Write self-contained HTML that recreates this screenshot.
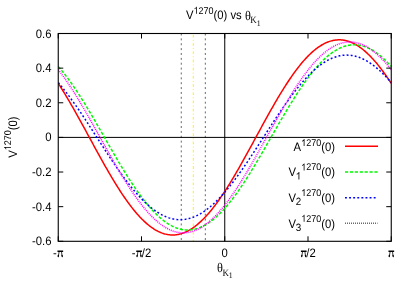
<!DOCTYPE html>
<html><head><meta charset="utf-8"><title>plot</title><style>
html,body{margin:0;padding:0;background:#fff}
svg{will-change:transform}
svg text{text-rendering:geometricPrecision;fill:#000}
.s{font-family:"Liberation Sans",sans-serif;font-size:11.3px}
.ss{font-family:"Liberation Sans",sans-serif;font-size:9px}
.sb{font-family:"Liberation Sans",sans-serif;font-size:9.8px}
.h{fill:none}
.e{font-family:"Liberation Serif",serif;font-size:11.3px}
.e8{font-family:"Liberation Serif",serif;font-size:9px}
.e6{font-family:"Liberation Serif",serif;font-size:7.8px}
.t{font-family:"Liberation Serif",serif;font-size:12.3px}
</style></head><body>
<svg width="409" height="287" viewBox="0 0 409 287" style="display:block">
<rect width="409" height="287" fill="#fff"/>
<line x1="181.28" y1="33.5" x2="181.28" y2="241.3" stroke="#686868" stroke-width="1" stroke-dasharray="2,2.87" stroke-dashoffset="0"/>
<line x1="193.30" y1="33.5" x2="193.30" y2="241.3" stroke="#fff400" stroke-width="1" stroke-dasharray="2.8,2.2,1,2.2" stroke-dashoffset="6.8"/>
<line x1="205.32" y1="33.5" x2="205.32" y2="241.3" stroke="#686868" stroke-width="1" stroke-dasharray="2,2.87" stroke-dashoffset="0"/>
<line x1="224.75" y1="33.5" x2="224.75" y2="241.3" stroke="#000" stroke-width="1"/>
<line x1="58.25" y1="137.4" x2="391.25" y2="137.4" stroke="#000" stroke-width="1"/>
<clipPath id="c"><rect x="58.25" y="33.5" width="333.0" height="207.8"/></clipPath>
<polyline clip-path="url(#c)" points="58.25,83.37 59.08,84.65 59.91,85.95 60.75,87.26 61.58,88.58 62.41,89.91 63.25,91.26 64.08,92.61 64.91,93.98 65.74,95.36 66.58,96.75 67.41,98.15 68.24,99.55 69.07,100.97 69.91,102.40 70.74,103.83 71.57,105.28 72.40,106.73 73.24,108.19 74.07,109.65 74.90,111.12 75.73,112.60 76.56,114.09 77.40,115.58 78.23,117.08 79.06,118.58 79.90,120.08 80.73,121.60 81.56,123.11 82.39,124.63 83.22,126.15 84.06,127.67 84.89,129.20 85.72,130.73 86.56,132.26 87.39,133.79 88.22,135.32 89.05,136.85 89.89,138.39 90.72,139.92 91.55,141.45 92.38,142.98 93.22,144.51 94.05,146.04 94.88,147.56 95.71,149.09 96.54,150.61 97.38,152.12 98.21,153.64 99.04,155.15 99.88,156.65 100.71,158.15 101.54,159.65 102.37,161.14 103.21,162.62 104.04,164.10 104.87,165.57 105.70,167.03 106.54,168.49 107.37,169.94 108.20,171.38 109.03,172.81 109.86,174.24 110.70,175.65 111.53,177.06 112.36,178.45 113.20,179.84 114.03,181.21 114.86,182.58 115.69,183.93 116.53,185.27 117.36,186.60 118.19,187.92 119.02,189.22 119.86,190.52 120.69,191.79 121.52,193.06 122.35,194.31 123.19,195.55 124.02,196.77 124.85,197.98 125.68,199.18 126.52,200.36 127.35,201.52 128.18,202.67 129.01,203.80 129.84,204.91 130.68,206.01 131.51,207.09 132.34,208.16 133.18,209.20 134.01,210.23 134.84,211.24 135.67,212.24 136.50,213.21 137.34,214.17 138.17,215.10 139.00,216.02 139.83,216.92 140.67,217.80 141.50,218.66 142.33,219.49 143.17,220.31 144.00,221.11 144.83,221.89 145.66,222.64 146.50,223.38 147.33,224.09 148.16,224.79 148.99,225.46 149.82,226.11 150.66,226.74 151.49,227.34 152.32,227.92 153.16,228.49 153.99,229.02 154.82,229.54 155.65,230.03 156.49,230.50 157.32,230.95 158.15,231.38 158.98,231.78 159.81,232.15 160.65,232.51 161.48,232.84 162.31,233.15 163.15,233.43 163.98,233.69 164.81,233.93 165.64,234.14 166.47,234.33 167.31,234.49 168.14,234.63 168.97,234.75 169.81,234.84 170.64,234.91 171.47,234.96 172.30,234.98 173.14,234.97 173.97,234.95 174.80,234.90 175.63,234.82 176.47,234.72 177.30,234.60 178.13,234.45 178.96,234.28 179.79,234.08 180.63,233.86 181.46,233.62 182.29,233.35 183.12,233.06 183.96,232.75 184.79,232.41 185.62,232.05 186.46,231.66 187.29,231.26 188.12,230.83 188.95,230.37 189.79,229.89 190.62,229.39 191.45,228.87 192.28,228.33 193.11,227.76 193.95,227.17 194.78,226.56 195.61,225.92 196.45,225.27 197.28,224.59 198.11,223.89 198.94,223.17 199.78,222.43 200.61,221.67 201.44,220.88 202.27,220.08 203.10,219.26 203.94,218.41 204.77,217.55 205.60,216.66 206.44,215.76 207.27,214.84 208.10,213.89 208.93,212.93 209.76,211.95 210.60,210.96 211.43,209.94 212.26,208.91 213.09,207.85 213.93,206.78 214.76,205.70 215.59,204.60 216.43,203.48 217.26,202.34 218.09,201.19 218.92,200.02 219.75,198.84 220.59,197.64 221.42,196.43 222.25,195.20 223.09,193.96 223.92,192.70 224.75,191.43 225.58,190.15 226.41,188.85 227.25,187.54 228.08,186.22 228.91,184.89 229.75,183.54 230.58,182.19 231.41,180.82 232.24,179.44 233.07,178.05 233.91,176.65 234.74,175.25 235.57,173.83 236.41,172.40 237.24,170.97 238.07,169.52 238.90,168.07 239.73,166.61 240.57,165.15 241.40,163.68 242.23,162.20 243.06,160.71 243.90,159.22 244.73,157.72 245.56,156.22 246.39,154.72 247.23,153.20 248.06,151.69 248.89,150.17 249.73,148.65 250.56,147.13 251.39,145.60 252.22,144.07 253.06,142.54 253.89,141.01 254.72,139.48 255.55,137.95 256.38,136.41 257.22,134.88 258.05,133.35 258.88,131.82 259.72,130.29 260.55,128.76 261.38,127.24 262.21,125.71 263.05,124.19 263.88,122.68 264.71,121.16 265.54,119.65 266.38,118.15 267.21,116.65 268.04,115.15 268.87,113.66 269.70,112.18 270.54,110.70 271.37,109.23 272.20,107.77 273.04,106.31 273.87,104.86 274.70,103.42 275.53,101.99 276.37,100.56 277.20,99.15 278.03,97.74 278.86,96.35 279.69,94.96 280.53,93.59 281.36,92.22 282.19,90.87 283.02,89.53 283.86,88.20 284.69,86.88 285.52,85.58 286.36,84.28 287.19,83.01 288.02,81.74 288.85,80.49 289.69,79.25 290.52,78.03 291.35,76.82 292.18,75.62 293.01,74.44 293.85,73.28 294.68,72.13 295.51,71.00 296.35,69.89 297.18,68.79 298.01,67.71 298.84,66.64 299.68,65.60 300.51,64.57 301.34,63.56 302.17,62.56 303.00,61.59 303.84,60.63 304.67,59.70 305.50,58.78 306.34,57.88 307.17,57.00 308.00,56.14 308.83,55.31 309.66,54.49 310.50,53.69 311.33,52.91 312.16,52.16 313.00,51.42 313.83,50.71 314.66,50.01 315.49,49.34 316.32,48.69 317.16,48.06 317.99,47.46 318.82,46.88 319.65,46.31 320.49,45.78 321.32,45.26 322.15,44.77 322.99,44.30 323.82,43.85 324.65,43.42 325.48,43.02 326.31,42.65 327.15,42.29 327.98,41.96 328.81,41.65 329.64,41.37 330.48,41.11 331.31,40.87 332.14,40.66 332.97,40.47 333.81,40.31 334.64,40.17 335.47,40.05 336.31,39.96 337.14,39.89 337.97,39.84 338.80,39.82 339.63,39.83 340.47,39.85 341.30,39.90 342.13,39.98 342.96,40.08 343.80,40.20 344.63,40.35 345.46,40.52 346.29,40.72 347.13,40.94 347.96,41.18 348.79,41.45 349.62,41.74 350.46,42.05 351.29,42.39 352.12,42.75 352.96,43.14 353.79,43.54 354.62,43.97 355.45,44.43 356.28,44.91 357.12,45.41 357.95,45.93 358.78,46.47 359.62,47.04 360.45,47.63 361.28,48.24 362.11,48.88 362.94,49.53 363.78,50.21 364.61,50.91 365.44,51.63 366.27,52.37 367.11,53.13 367.94,53.92 368.77,54.72 369.61,55.54 370.44,56.39 371.27,57.25 372.10,58.14 372.94,59.04 373.77,59.96 374.60,60.91 375.43,61.87 376.26,62.85 377.10,63.84 377.93,64.86 378.76,65.89 379.59,66.95 380.43,68.02 381.26,69.10 382.09,70.20 382.92,71.32 383.76,72.46 384.59,73.61 385.42,74.78 386.25,75.96 387.09,77.16 387.92,78.37 388.75,79.60 389.59,80.84 390.42,82.10 391.25,83.37" fill="none" stroke="#ff0000" stroke-width="1.5"/>
<polyline clip-path="url(#c)" points="58.25,66.50 59.08,67.44 59.91,68.40 60.75,69.38 61.58,70.38 62.41,71.39 63.25,72.42 64.08,73.46 64.91,74.52 65.74,75.60 66.58,76.69 67.41,77.80 68.24,78.92 69.07,80.05 69.91,81.20 70.74,82.36 71.57,83.54 72.40,84.73 73.24,85.93 74.07,87.15 74.90,88.38 75.73,89.62 76.56,90.87 77.40,92.13 78.23,93.41 79.06,94.69 79.90,95.99 80.73,97.29 81.56,98.61 82.39,99.94 83.22,101.27 84.06,102.62 84.89,103.97 85.72,105.33 86.56,106.70 87.39,108.07 88.22,109.46 89.05,110.85 89.89,112.24 90.72,113.65 91.55,115.06 92.38,116.47 93.22,117.89 94.05,119.31 94.88,120.74 95.71,122.18 96.54,123.61 97.38,125.05 98.21,126.50 99.04,127.94 99.88,129.39 100.71,130.84 101.54,132.29 102.37,133.74 103.21,135.20 104.04,136.65 104.87,138.11 105.70,139.56 106.54,141.02 107.37,142.47 108.20,143.92 109.03,145.37 109.86,146.82 110.70,148.27 111.53,149.71 112.36,151.15 113.20,152.59 114.03,154.02 114.86,155.45 115.69,156.87 116.53,158.29 117.36,159.71 118.19,161.12 119.02,162.52 119.86,163.92 120.69,165.31 121.52,166.69 122.35,168.07 123.19,169.44 124.02,170.80 124.85,172.15 125.68,173.49 126.52,174.83 127.35,176.15 128.18,177.47 129.01,178.78 129.84,180.07 130.68,181.36 131.51,182.63 132.34,183.90 133.18,185.15 134.01,186.39 134.84,187.62 135.67,188.84 136.50,190.04 137.34,191.23 138.17,192.41 139.00,193.57 139.83,194.72 140.67,195.85 141.50,196.98 142.33,198.08 143.17,199.17 144.00,200.25 144.83,201.31 145.66,202.35 146.50,203.38 147.33,204.40 148.16,205.39 148.99,206.37 149.82,207.33 150.66,208.28 151.49,209.21 152.32,210.12 153.16,211.01 153.99,211.88 154.82,212.74 155.65,213.57 156.49,214.39 157.32,215.19 158.15,215.97 158.98,216.73 159.81,217.47 160.65,218.19 161.48,218.89 162.31,219.57 163.15,220.23 163.98,220.87 164.81,221.49 165.64,222.09 166.47,222.67 167.31,223.23 168.14,223.76 168.97,224.28 169.81,224.77 170.64,225.24 171.47,225.69 172.30,226.12 173.14,226.53 173.97,226.91 174.80,227.27 175.63,227.61 176.47,227.93 177.30,228.23 178.13,228.50 178.96,228.75 179.79,228.98 180.63,229.18 181.46,229.37 182.29,229.53 183.12,229.66 183.96,229.78 184.79,229.87 185.62,229.94 186.46,229.98 187.29,230.01 188.12,230.01 188.95,229.98 189.79,229.94 190.62,229.87 191.45,229.78 192.28,229.67 193.11,229.53 193.95,229.37 194.78,229.19 195.61,228.98 196.45,228.76 197.28,228.51 198.11,228.23 198.94,227.94 199.78,227.62 200.61,227.28 201.44,226.92 202.27,226.54 203.10,226.13 203.94,225.70 204.77,225.26 205.60,224.78 206.44,224.29 207.27,223.78 208.10,223.24 208.93,222.69 209.76,222.11 210.60,221.51 211.43,220.89 212.26,220.25 213.09,219.59 213.93,218.91 214.76,218.21 215.59,217.49 216.43,216.75 217.26,215.99 218.09,215.21 218.92,214.41 219.75,213.60 220.59,212.76 221.42,211.90 222.25,211.03 223.09,210.14 223.92,209.23 224.75,208.30 225.58,207.36 226.41,206.40 227.25,205.42 228.08,204.42 228.91,203.41 229.75,202.38 230.58,201.34 231.41,200.28 232.24,199.20 233.07,198.11 233.91,197.00 234.74,195.88 235.57,194.75 236.41,193.60 237.24,192.44 238.07,191.26 238.90,190.07 239.73,188.87 240.57,187.65 241.40,186.42 242.23,185.18 243.06,183.93 243.90,182.67 244.73,181.39 245.56,180.11 246.39,178.81 247.23,177.51 248.06,176.19 248.89,174.86 249.73,173.53 250.56,172.18 251.39,170.83 252.22,169.47 253.06,168.10 253.89,166.73 254.72,165.34 255.55,163.95 256.38,162.56 257.22,161.15 258.05,159.74 258.88,158.33 259.72,156.91 260.55,155.49 261.38,154.06 262.21,152.62 263.05,151.19 263.88,149.75 264.71,148.30 265.54,146.86 266.38,145.41 267.21,143.96 268.04,142.51 268.87,141.06 269.70,139.60 270.54,138.15 271.37,136.69 272.20,135.24 273.04,133.78 273.87,132.33 274.70,130.88 275.53,129.43 276.37,127.98 277.20,126.53 278.03,125.09 278.86,123.65 279.69,122.21 280.53,120.78 281.36,119.35 282.19,117.93 283.02,116.51 283.86,115.09 284.69,113.68 285.52,112.28 286.36,110.88 287.19,109.49 288.02,108.11 288.85,106.73 289.69,105.36 290.52,104.00 291.35,102.65 292.18,101.31 293.01,99.97 293.85,98.65 294.68,97.33 295.51,96.02 296.35,94.73 297.18,93.44 298.01,92.17 298.84,90.90 299.68,89.65 300.51,88.41 301.34,87.18 302.17,85.96 303.00,84.76 303.84,83.57 304.67,82.39 305.50,81.23 306.34,80.08 307.17,78.95 308.00,77.82 308.83,76.72 309.66,75.63 310.50,74.55 311.33,73.49 312.16,72.45 313.00,71.42 313.83,70.40 314.66,69.41 315.49,68.43 316.32,67.47 317.16,66.52 317.99,65.59 318.82,64.68 319.65,63.79 320.49,62.92 321.32,62.06 322.15,61.23 322.99,60.41 323.82,59.61 324.65,58.83 325.48,58.07 326.31,57.33 327.15,56.61 327.98,55.91 328.81,55.23 329.64,54.57 330.48,53.93 331.31,53.31 332.14,52.71 332.97,52.13 333.81,51.57 334.64,51.04 335.47,50.52 336.31,50.03 337.14,49.56 337.97,49.11 338.80,48.68 339.63,48.27 340.47,47.89 341.30,47.53 342.13,47.19 342.96,46.87 343.80,46.57 344.63,46.30 345.46,46.05 346.29,45.82 347.13,45.62 347.96,45.43 348.79,45.27 349.62,45.14 350.46,45.02 351.29,44.93 352.12,44.86 352.96,44.82 353.79,44.79 354.62,44.79 355.45,44.82 356.28,44.86 357.12,44.93 357.95,45.02 358.78,45.13 359.62,45.27 360.45,45.43 361.28,45.61 362.11,45.82 362.94,46.04 363.78,46.29 364.61,46.57 365.44,46.86 366.27,47.18 367.11,47.52 367.94,47.88 368.77,48.26 369.61,48.67 370.44,49.10 371.27,49.54 372.10,50.02 372.94,50.51 373.77,51.02 374.60,51.56 375.43,52.11 376.26,52.69 377.10,53.29 377.93,53.91 378.76,54.55 379.59,55.21 380.43,55.89 381.26,56.59 382.09,57.31 382.92,58.05 383.76,58.81 384.59,59.59 385.42,60.39 386.25,61.20 387.09,62.04 387.92,62.90 388.75,63.77 389.59,64.66 390.42,65.57 391.25,66.50" fill="none" stroke="#00f800" stroke-width="1.5" stroke-dasharray="3.2,1.7"/>
<polyline clip-path="url(#c)" points="58.25,82.59 59.08,83.56 59.91,84.54 60.75,85.54 61.58,86.55 62.41,87.57 63.25,88.60 64.08,89.65 64.91,90.71 65.74,91.78 66.58,92.86 67.41,93.95 68.24,95.06 69.07,96.17 69.91,97.29 70.74,98.43 71.57,99.57 72.40,100.72 73.24,101.88 74.07,103.06 74.90,104.23 75.73,105.42 76.56,106.62 77.40,107.82 78.23,109.03 79.06,110.24 79.90,111.47 80.73,112.70 81.56,113.93 82.39,115.18 83.22,116.42 84.06,117.68 84.89,118.93 85.72,120.19 86.56,121.46 87.39,122.73 88.22,124.00 89.05,125.28 89.89,126.56 90.72,127.84 91.55,129.13 92.38,130.42 93.22,131.70 94.05,132.99 94.88,134.29 95.71,135.58 96.54,136.87 97.38,138.16 98.21,139.46 99.04,140.75 99.88,142.04 100.71,143.33 101.54,144.62 102.37,145.90 103.21,147.19 104.04,148.47 104.87,149.75 105.70,151.03 106.54,152.30 107.37,153.57 108.20,154.83 109.03,156.09 109.86,157.35 110.70,158.60 111.53,159.85 112.36,161.09 113.20,162.32 114.03,163.55 114.86,164.78 115.69,165.99 116.53,167.20 117.36,168.40 118.19,169.59 119.02,170.78 119.86,171.96 120.69,173.13 121.52,174.29 122.35,175.44 123.19,176.58 124.02,177.71 124.85,178.83 125.68,179.94 126.52,181.04 127.35,182.14 128.18,183.21 129.01,184.28 129.84,185.34 130.68,186.38 131.51,187.42 132.34,188.44 133.18,189.44 134.01,190.44 134.84,191.42 135.67,192.39 136.50,193.34 137.34,194.28 138.17,195.21 139.00,196.12 139.83,197.02 140.67,197.91 141.50,198.77 142.33,199.63 143.17,200.47 144.00,201.29 144.83,202.10 145.66,202.89 146.50,203.66 147.33,204.42 148.16,205.16 148.99,205.89 149.82,206.59 150.66,207.28 151.49,207.96 152.32,208.61 153.16,209.25 153.99,209.87 154.82,210.48 155.65,211.06 156.49,211.63 157.32,212.18 158.15,212.71 158.98,213.22 159.81,213.71 160.65,214.19 161.48,214.64 162.31,215.08 163.15,215.50 163.98,215.89 164.81,216.27 165.64,216.63 166.47,216.97 167.31,217.29 168.14,217.59 168.97,217.87 169.81,218.13 170.64,218.37 171.47,218.59 172.30,218.79 173.14,218.97 173.97,219.13 174.80,219.27 175.63,219.39 176.47,219.49 177.30,219.57 178.13,219.63 178.96,219.67 179.79,219.69 180.63,219.69 181.46,219.66 182.29,219.62 183.12,219.56 183.96,219.47 184.79,219.37 185.62,219.25 186.46,219.10 187.29,218.94 188.12,218.76 188.95,218.55 189.79,218.33 190.62,218.08 191.45,217.82 192.28,217.54 193.11,217.23 193.95,216.91 194.78,216.57 195.61,216.21 196.45,215.82 197.28,215.42 198.11,215.00 198.94,214.56 199.78,214.10 200.61,213.63 201.44,213.13 202.27,212.61 203.10,212.08 203.94,211.53 204.77,210.96 205.60,210.37 206.44,209.76 207.27,209.14 208.10,208.50 208.93,207.84 209.76,207.16 210.60,206.47 211.43,205.76 212.26,205.03 213.09,204.28 213.93,203.52 214.76,202.74 215.59,201.95 216.43,201.14 217.26,200.32 218.09,199.47 218.92,198.62 219.75,197.75 220.59,196.86 221.42,195.96 222.25,195.04 223.09,194.12 223.92,193.17 224.75,192.21 225.58,191.24 226.41,190.26 227.25,189.26 228.08,188.25 228.91,187.23 229.75,186.20 230.58,185.15 231.41,184.09 232.24,183.02 233.07,181.94 233.91,180.85 234.74,179.74 235.57,178.63 236.41,177.51 237.24,176.37 238.07,175.23 238.90,174.08 239.73,172.92 240.57,171.74 241.40,170.57 242.23,169.38 243.06,168.18 243.90,166.98 244.73,165.77 245.56,164.56 246.39,163.33 247.23,162.10 248.06,160.87 248.89,159.62 249.73,158.38 250.56,157.12 251.39,155.87 252.22,154.61 253.06,153.34 253.89,152.07 254.72,150.80 255.55,149.52 256.38,148.24 257.22,146.96 258.05,145.67 258.88,144.38 259.72,143.10 260.55,141.81 261.38,140.51 262.21,139.22 263.05,137.93 263.88,136.64 264.71,135.34 265.54,134.05 266.38,132.76 267.21,131.47 268.04,130.18 268.87,128.90 269.70,127.61 270.54,126.33 271.37,125.05 272.20,123.77 273.04,122.50 273.87,121.23 274.70,119.97 275.53,118.71 276.37,117.45 277.20,116.20 278.03,114.95 278.86,113.71 279.69,112.48 280.53,111.25 281.36,110.02 282.19,108.81 283.02,107.60 283.86,106.40 284.69,105.21 285.52,104.02 286.36,102.84 287.19,101.67 288.02,100.51 288.85,99.36 289.69,98.22 290.52,97.09 291.35,95.97 292.18,94.86 293.01,93.76 293.85,92.66 294.68,91.59 295.51,90.52 296.35,89.46 297.18,88.42 298.01,87.38 298.84,86.36 299.68,85.36 300.51,84.36 301.34,83.38 302.17,82.41 303.00,81.46 303.84,80.52 304.67,79.59 305.50,78.68 306.34,77.78 307.17,76.89 308.00,76.03 308.83,75.17 309.66,74.33 310.50,73.51 311.33,72.70 312.16,71.91 313.00,71.14 313.83,70.38 314.66,69.64 315.49,68.91 316.32,68.21 317.16,67.52 317.99,66.84 318.82,66.19 319.65,65.55 320.49,64.93 321.32,64.32 322.15,63.74 322.99,63.17 323.82,62.62 324.65,62.09 325.48,61.58 326.31,61.09 327.15,60.61 327.98,60.16 328.81,59.72 329.64,59.30 330.48,58.91 331.31,58.53 332.14,58.17 332.97,57.83 333.81,57.51 334.64,57.21 335.47,56.93 336.31,56.67 337.14,56.43 337.97,56.21 338.80,56.01 339.63,55.83 340.47,55.67 341.30,55.53 342.13,55.41 342.96,55.31 343.80,55.23 344.63,55.17 345.46,55.13 346.29,55.11 347.13,55.11 347.96,55.14 348.79,55.18 349.62,55.24 350.46,55.33 351.29,55.43 352.12,55.55 352.96,55.70 353.79,55.86 354.62,56.04 355.45,56.25 356.28,56.47 357.12,56.72 357.95,56.98 358.78,57.26 359.62,57.57 360.45,57.89 361.28,58.23 362.11,58.59 362.94,58.98 363.78,59.38 364.61,59.80 365.44,60.24 366.27,60.70 367.11,61.17 367.94,61.67 368.77,62.19 369.61,62.72 370.44,63.27 371.27,63.84 372.10,64.43 372.94,65.04 373.77,65.66 374.60,66.30 375.43,66.96 376.26,67.64 377.10,68.33 377.93,69.04 378.76,69.77 379.59,70.52 380.43,71.28 381.26,72.06 382.09,72.85 382.92,73.66 383.76,74.48 384.59,75.33 385.42,76.18 386.25,77.05 387.09,77.94 387.92,78.84 388.75,79.76 389.59,80.68 390.42,81.63 391.25,82.59" fill="none" stroke="#0000ff" stroke-width="1.5" stroke-dasharray="1.9,2.2"/>
<polyline clip-path="url(#c)" points="58.25,69.68 59.08,70.75 59.91,71.83 60.75,72.93 61.58,74.04 62.41,75.17 63.25,76.32 64.08,77.48 64.91,78.65 65.74,79.84 66.58,81.04 67.41,82.26 68.24,83.49 69.07,84.73 69.91,85.99 70.74,87.26 71.57,88.54 72.40,89.84 73.24,91.14 74.07,92.46 74.90,93.79 75.73,95.13 76.56,96.47 77.40,97.83 78.23,99.20 79.06,100.58 79.90,101.97 80.73,103.37 81.56,104.77 82.39,106.18 83.22,107.60 84.06,109.03 84.89,110.47 85.72,111.91 86.56,113.36 87.39,114.81 88.22,116.27 89.05,117.74 89.89,119.21 90.72,120.68 91.55,122.16 92.38,123.64 93.22,125.12 94.05,126.61 94.88,128.10 95.71,129.60 96.54,131.09 97.38,132.59 98.21,134.09 99.04,135.59 99.88,137.08 100.71,138.58 101.54,140.08 102.37,141.58 103.21,143.08 104.04,144.57 104.87,146.07 105.70,147.56 106.54,149.05 107.37,150.54 108.20,152.02 109.03,153.50 109.86,154.98 110.70,156.45 111.53,157.91 112.36,159.38 113.20,160.83 114.03,162.28 114.86,163.73 115.69,165.16 116.53,166.60 117.36,168.02 118.19,169.44 119.02,170.84 119.86,172.24 120.69,173.64 121.52,175.02 122.35,176.39 123.19,177.76 124.02,179.11 124.85,180.45 125.68,181.78 126.52,183.11 127.35,184.42 128.18,185.72 129.01,187.00 129.84,188.28 130.68,189.54 131.51,190.79 132.34,192.03 133.18,193.25 134.01,194.46 134.84,195.65 135.67,196.83 136.50,198.00 137.34,199.15 138.17,200.29 139.00,201.41 139.83,202.51 140.67,203.60 141.50,204.67 142.33,205.73 143.17,206.76 144.00,207.78 144.83,208.79 145.66,209.78 146.50,210.74 147.33,211.69 148.16,212.63 148.99,213.54 149.82,214.43 150.66,215.31 151.49,216.17 152.32,217.00 153.16,217.82 153.99,218.62 154.82,219.40 155.65,220.15 156.49,220.89 157.32,221.61 158.15,222.30 158.98,222.98 159.81,223.63 160.65,224.26 161.48,224.87 162.31,225.46 163.15,226.03 163.98,226.58 164.81,227.10 165.64,227.60 166.47,228.08 167.31,228.54 168.14,228.97 168.97,229.38 169.81,229.77 170.64,230.14 171.47,230.48 172.30,230.80 173.14,231.10 173.97,231.37 174.80,231.62 175.63,231.85 176.47,232.06 177.30,232.24 178.13,232.40 178.96,232.53 179.79,232.64 180.63,232.73 181.46,232.79 182.29,232.83 183.12,232.85 183.96,232.84 184.79,232.81 185.62,232.76 186.46,232.68 187.29,232.58 188.12,232.45 188.95,232.31 189.79,232.14 190.62,231.94 191.45,231.72 192.28,231.48 193.11,231.22 193.95,230.93 194.78,230.62 195.61,230.29 196.45,229.93 197.28,229.55 198.11,229.15 198.94,228.72 199.78,228.27 200.61,227.80 201.44,227.31 202.27,226.80 203.10,226.26 203.94,225.70 204.77,225.12 205.60,224.52 206.44,223.90 207.27,223.25 208.10,222.59 208.93,221.90 209.76,221.19 210.60,220.47 211.43,219.72 212.26,218.95 213.09,218.16 213.93,217.35 214.76,216.52 215.59,215.67 216.43,214.81 217.26,213.92 218.09,213.01 218.92,212.09 219.75,211.15 220.59,210.18 221.42,209.21 222.25,208.21 223.09,207.20 223.92,206.16 224.75,205.12 225.58,204.05 226.41,202.97 227.25,201.87 228.08,200.76 228.91,199.63 229.75,198.48 230.58,197.32 231.41,196.15 232.24,194.96 233.07,193.76 233.91,192.54 234.74,191.31 235.57,190.07 236.41,188.81 237.24,187.54 238.07,186.26 238.90,184.96 239.73,183.66 240.57,182.34 241.40,181.01 242.23,179.67 243.06,178.33 243.90,176.97 244.73,175.60 245.56,174.22 246.39,172.83 247.23,171.43 248.06,170.03 248.89,168.62 249.73,167.20 250.56,165.77 251.39,164.33 252.22,162.89 253.06,161.44 253.89,159.99 254.72,158.53 255.55,157.06 256.38,155.59 257.22,154.12 258.05,152.64 258.88,151.16 259.72,149.68 260.55,148.19 261.38,146.70 262.21,145.20 263.05,143.71 263.88,142.21 264.71,140.71 265.54,139.21 266.38,137.72 267.21,136.22 268.04,134.72 268.87,133.22 269.70,131.72 270.54,130.23 271.37,128.73 272.20,127.24 273.04,125.75 273.87,124.26 274.70,122.78 275.53,121.30 276.37,119.82 277.20,118.35 278.03,116.89 278.86,115.42 279.69,113.97 280.53,112.52 281.36,111.07 282.19,109.64 283.02,108.20 283.86,106.78 284.69,105.36 285.52,103.96 286.36,102.56 287.19,101.16 288.02,99.78 288.85,98.41 289.69,97.04 290.52,95.69 291.35,94.35 292.18,93.02 293.01,91.69 293.85,90.38 294.68,89.08 295.51,87.80 296.35,86.52 297.18,85.26 298.01,84.01 298.84,82.77 299.68,81.55 300.51,80.34 301.34,79.15 302.17,77.97 303.00,76.80 303.84,75.65 304.67,74.51 305.50,73.39 306.34,72.29 307.17,71.20 308.00,70.13 308.83,69.07 309.66,68.04 310.50,67.02 311.33,66.01 312.16,65.02 313.00,64.06 313.83,63.11 314.66,62.17 315.49,61.26 316.32,60.37 317.16,59.49 317.99,58.63 318.82,57.80 319.65,56.98 320.49,56.18 321.32,55.40 322.15,54.65 322.99,53.91 323.82,53.19 324.65,52.50 325.48,51.82 326.31,51.17 327.15,50.54 327.98,49.93 328.81,49.34 329.64,48.77 330.48,48.22 331.31,47.70 332.14,47.20 332.97,46.72 333.81,46.26 334.64,45.83 335.47,45.42 336.31,45.03 337.14,44.66 337.97,44.32 338.80,44.00 339.63,43.70 340.47,43.43 341.30,43.18 342.13,42.95 342.96,42.74 343.80,42.56 344.63,42.40 345.46,42.27 346.29,42.16 347.13,42.07 347.96,42.01 348.79,41.97 349.62,41.95 350.46,41.96 351.29,41.99 352.12,42.04 352.96,42.12 353.79,42.22 354.62,42.35 355.45,42.49 356.28,42.66 357.12,42.86 357.95,43.08 358.78,43.32 359.62,43.58 360.45,43.87 361.28,44.18 362.11,44.51 362.94,44.87 363.78,45.25 364.61,45.65 365.44,46.08 366.27,46.53 367.11,47.00 367.94,47.49 368.77,48.00 369.61,48.54 370.44,49.10 371.27,49.68 372.10,50.28 372.94,50.90 373.77,51.55 374.60,52.21 375.43,52.90 376.26,53.61 377.10,54.33 377.93,55.08 378.76,55.85 379.59,56.64 380.43,57.45 381.26,58.28 382.09,59.13 382.92,59.99 383.76,60.88 384.59,61.79 385.42,62.71 386.25,63.65 387.09,64.62 387.92,65.59 388.75,66.59 389.59,67.60 390.42,68.64 391.25,69.68" fill="none" stroke="#ff00ff" stroke-width="1.5" stroke-dasharray="1,1"/>
<rect x="58.25" y="33.5" width="333.0" height="207.8" fill="none" stroke="#000" stroke-width="1.1"/>
<path d="M58.25 241.3v-5M58.25 33.5v5" stroke="#000" stroke-width="1"/>
<path d="M141.50 241.3v-5M141.50 33.5v5" stroke="#000" stroke-width="1"/>
<path d="M224.75 241.3v-5M224.75 33.5v5" stroke="#000" stroke-width="1"/>
<path d="M308.00 241.3v-5M308.00 33.5v5" stroke="#000" stroke-width="1"/>
<path d="M391.25 241.3v-5M391.25 33.5v5" stroke="#000" stroke-width="1"/>
<path d="M58.25 241.30h5M391.25 241.30h-5" stroke="#000" stroke-width="1"/>
<path d="M58.25 206.67h5M391.25 206.67h-5" stroke="#000" stroke-width="1"/>
<path d="M58.25 172.03h5M391.25 172.03h-5" stroke="#000" stroke-width="1"/>
<path d="M58.25 137.40h5M391.25 137.40h-5" stroke="#000" stroke-width="1"/>
<path d="M58.25 102.77h5M391.25 102.77h-5" stroke="#000" stroke-width="1"/>
<path d="M58.25 68.13h5M391.25 68.13h-5" stroke="#000" stroke-width="1"/>
<path d="M58.25 33.50h5M391.25 33.50h-5" stroke="#000" stroke-width="1"/>
<line x1="345" y1="146.25" x2="378" y2="146.25" stroke="#ff0000" stroke-width="1.5"/>
<line x1="345" y1="172.0" x2="378" y2="172.0" stroke="#00f800" stroke-width="1.5" stroke-dasharray="3.2,1.7"/>
<line x1="345" y1="197.65" x2="376" y2="197.65" stroke="#0000ff" stroke-width="1.5" stroke-dasharray="1.9,2.2"/>
<line x1="345" y1="223.3" x2="377.5" y2="223.3" stroke="#ff00ff" stroke-width="1.5" stroke-dasharray="1,1"/>
<g transform="translate(51.5,245.3) scale(1,1.08)"><text x="0" y="0" text-anchor="end"><tspan class="s">-0.6</tspan></text></g>
<g transform="translate(51.5,210.67) scale(1,1.08)"><text x="0" y="0" text-anchor="end"><tspan class="s">-0.4</tspan></text></g>
<g transform="translate(51.5,176.03) scale(1,1.08)"><text x="0" y="0" text-anchor="end"><tspan class="s">-0.2</tspan></text></g>
<g transform="translate(51.5,141.4) scale(1,1.08)"><text x="0" y="0" text-anchor="end"><tspan class="s">0</tspan></text></g>
<g transform="translate(51.5,106.77) scale(1,1.08)"><text x="0" y="0" text-anchor="end"><tspan class="s">0.2</tspan></text></g>
<g transform="translate(51.5,72.13) scale(1,1.08)"><text x="0" y="0" text-anchor="end"><tspan class="s">0.4</tspan></text></g>
<g transform="translate(51.5,37.5) scale(1,1.08)"><text x="0" y="0" text-anchor="end"><tspan class="s">0.6</tspan></text></g>
<defs><g id="pi"><g fill="none" stroke="#000"><path d="M0.35,-5.6H6.05" stroke-width="1.5"/><path d="M2.0,-5L1.35,-1.2M4.4,-5L4.9,-1.2" stroke-width="0.75"/><path d="M1.3,-1.5L1.15,-0.4M4.95,-1.5L5.15,-0.4" stroke-width="1.4" stroke-linecap="round"/></g></g></defs>
<g transform="translate(53.0,256.7) scale(1,1.08)"><text x="0" y="0"><tspan class="s">-</tspan></text></g>
<use href="#pi" x="57.10" y="256.84999999999997"/>
<g transform="translate(131.8,256.7) scale(1,1.08)"><text x="0" y="0"><tspan class="s">-</tspan></text></g>
<use href="#pi" x="135.90" y="256.84999999999997"/>
<g transform="translate(141.8,256.7) scale(1,1.08)"><text x="0" y="0"><tspan class="s">/2</tspan></text></g>
<g transform="translate(224.75,256.7) scale(1,1.08)"><text x="0" y="0" text-anchor="middle"><tspan class="s">0</tspan></text></g>
<use href="#pi" x="300.55" y="256.84999999999997"/>
<g transform="translate(306.35,256.7) scale(1,1.08)"><text x="0" y="0"><tspan class="s">/2</tspan></text></g>
<use href="#pi" x="388.10" y="256.84999999999997"/>
<g transform="translate(185.9,19.4) scale(1,1.08)"><text x="0" y="0"><tspan class="s">V</tspan><tspan class="ss" dy="-5.28"><tspan class="h">1</tspan>270</tspan><tspan class="s" dy="5.28">(0) vs </tspan><tspan class="t" dy="0.28">θ</tspan><tspan class="e8" dy="2.96" dx="-0.4">K</tspan><tspan class="e6" dy="2.59" dx="-0.2">1</tspan></text></g>
<g transform="translate(217,271.8) scale(1,1.08)"><text x="0" y="0"><tspan class="t" dy="0.28">θ</tspan><tspan class="e8" dy="3.15" dx="-0.4">K</tspan><tspan class="e6" dy="2.41" dx="-0.2">1</tspan></text></g>
<g transform="translate(16.7,157.8) rotate(-90) translate(0,0) scale(1,1.08)"><text x="0" y="0"><tspan class="s">V</tspan><tspan class="ss" dy="-5.28"><tspan class="h">1</tspan>270</tspan><tspan class="s" dy="5.28">(0)</tspan></text></g>
<g transform="translate(335.0,151.3) scale(1,1.08)"><text x="0" y="0" text-anchor="end"><tspan class="s">A</tspan><tspan class="ss" dy="-4.81"><tspan class="h">1</tspan>270</tspan><tspan class="s" dy="4.81">(0)</tspan></text></g>
<g transform="translate(335.0,176.2) scale(1,1.08)"><text x="0" y="0" text-anchor="end"><tspan class="s">V</tspan><tspan class="sb" dy="3.06" dx="-0.45"><tspan class="h">1</tspan></tspan><tspan class="ss" dy="-8.43"><tspan class="h">1</tspan>270</tspan><tspan class="s" dy="5.37">(0)</tspan></text></g>
<g transform="translate(335.0,201.7) scale(1,1.08)"><text x="0" y="0" text-anchor="end"><tspan class="s">V</tspan><tspan class="sb" dy="3.06" dx="-0.45">2</tspan><tspan class="ss" dy="-8.43"><tspan class="h">1</tspan>270</tspan><tspan class="s" dy="5.37">(0)</tspan></text></g>
<g transform="translate(335.0,227.5) scale(1,1.08)"><text x="0" y="0" text-anchor="end"><tspan class="s">V</tspan><tspan class="sb" dy="3.06" dx="-0.45">3</tspan><tspan class="ss" dy="-8.43"><tspan class="h">1</tspan>270</tspan><tspan class="s" dy="5.37">(0)</tspan></text></g>
<defs><path id="one" d="M763 0H583V1147Q518 1085 412.5 1023T223 930V1104Q374 1175 487 1276T647 1472H763Z"/></defs>
<use href="#one" transform="matrix(0.00439 0.00000 0.00000 -0.00475 193.45 13.70)"/>
<use href="#one" transform="matrix(0.00000 -0.00439 -0.00475 0.00000 11.00 150.25)"/>
<use href="#one" transform="matrix(0.00439 0.00000 0.00000 -0.00475 301.14 146.11)"/>
<use href="#one" transform="matrix(0.00479 0.00000 0.00000 -0.00517 295.69 179.50)"/>
<use href="#one" transform="matrix(0.00439 0.00000 0.00000 -0.00475 301.14 170.40)"/>
<use href="#one" transform="matrix(0.00439 0.00000 0.00000 -0.00475 301.14 195.90)"/>
<use href="#one" transform="matrix(0.00439 0.00000 0.00000 -0.00475 301.14 221.70)"/>
</svg>
</body></html>
